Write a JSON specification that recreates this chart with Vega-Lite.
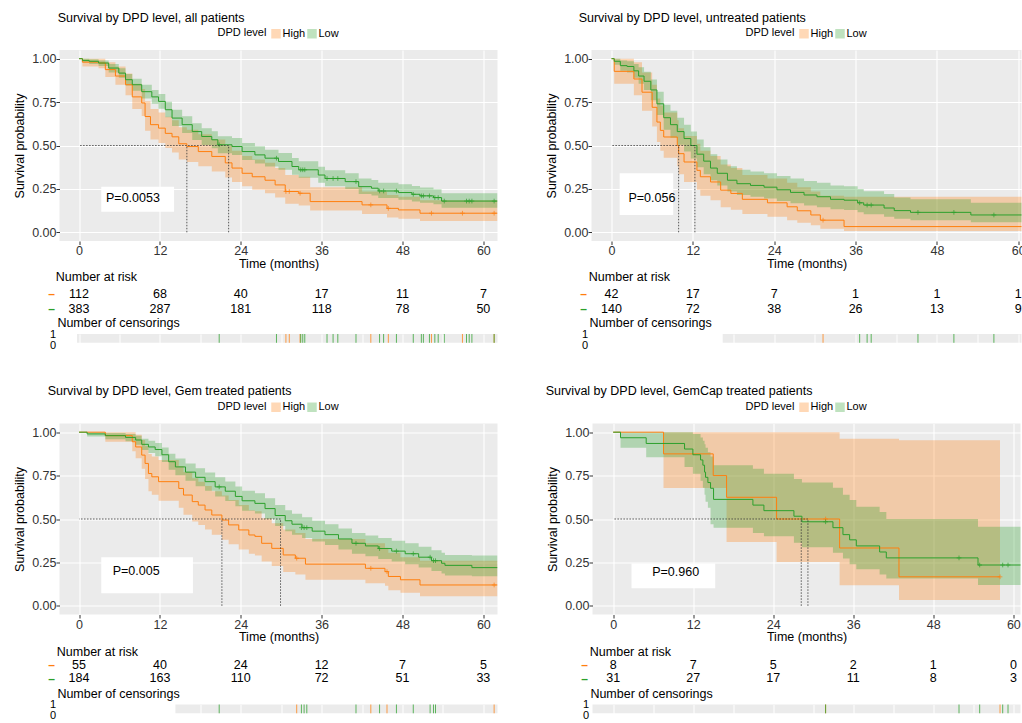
{
"$schema": "https://vega.github.io/schema/vega-lite/v6.json",
"padding": {"left": 13.5, "top": 11, "right": 0, "bottom": 0},
"background": "white",
"config": {
 "font": "Liberation Sans",
 "view": {"stroke": null},
 "axis": {"labelFontSize": 12.5, "labelColor": "#333333", "titleFontSize": 12.5, "titleFontWeight": "normal", "titleColor": "#000000", "tickColor": "#333333", "tickSize": 3.5, "domain": false, "gridColor": "#FFFFFF", "gridWidth": 1.1, "labelPadding": 0, "labelOverlap": false, "labelFlush": false},
 "axisX": {"titlePadding": 0},
 "axisY": {"titlePadding": 5},
 "title": {"fontSize": 12.5, "fontWeight": "normal", "anchor": "start", "color": "#000000", "offset": 4},
 "legend": {"orient": "top", "direction": "horizontal", "titleOrient": "left", "titleFontSize": 11, "titleFontWeight": "normal", "labelFontSize": 11, "symbolType": "square", "symbolSize": 90, "symbolStrokeWidth": 0, "columnPadding": 1, "labelOffset": 1, "titlePadding": 4, "offset": 11, "layout": {"top": {"anchor": "middle", "bounds": "flush"}}},
 "text": {"font": "Liberation Sans"}
},
"datasets": {
 "km": [
  {"p":1,"g":"High","t":0,"s":1,"lo":1,"hi":1},{"p":1,"g":"High","t":0.5,"s":0.98,"lo":0.955,"hi":1},{"p":1,"g":"High","t":2.9,"s":0.975,"lo":0.945,"hi":1},{"p":1,"g":"High","t":3.9,"s":0.937,"lo":0.895,"hi":0.98},{"p":1,"g":"High","t":5.4,"s":0.9,"lo":0.85,"hi":0.955},{"p":1,"g":"High","t":6.9,"s":0.85,"lo":0.79,"hi":0.915},{"p":1,"g":"High","t":7.9,"s":0.78,"lo":0.71,"hi":0.855},{"p":1,"g":"High","t":9.3,"s":0.745,"lo":0.67,"hi":0.825},{"p":1,"g":"High","t":9.8,"s":0.667,"lo":0.585,"hi":0.755},{"p":1,"g":"High","t":10.6,"s":0.62,"lo":0.535,"hi":0.71},{"p":1,"g":"High","t":11.8,"s":0.6,"lo":0.515,"hi":0.69},{"p":1,"g":"High","t":12.8,"s":0.57,"lo":0.485,"hi":0.665},{"p":1,"g":"High","t":13.8,"s":0.55,"lo":0.46,"hi":0.645},{"p":1,"g":"High","t":14.8,"s":0.51,"lo":0.42,"hi":0.605},{"p":1,"g":"High","t":16,"s":0.494,"lo":0.405,"hi":0.59},{"p":1,"g":"High","t":17.7,"s":0.465,"lo":0.38,"hi":0.565},{"p":1,"g":"High","t":19.7,"s":0.437,"lo":0.35,"hi":0.535},{"p":1,"g":"High","t":21.7,"s":0.4,"lo":0.315,"hi":0.5},{"p":1,"g":"High","t":22.7,"s":0.37,"lo":0.29,"hi":0.47},{"p":1,"g":"High","t":24.2,"s":0.34,"lo":0.265,"hi":0.44},{"p":1,"g":"High","t":25.7,"s":0.32,"lo":0.245,"hi":0.42},{"p":1,"g":"High","t":27.6,"s":0.3,"lo":0.225,"hi":0.4},{"p":1,"g":"High","t":29.1,"s":0.273,"lo":0.2,"hi":0.37},{"p":1,"g":"High","t":30.6,"s":0.235,"lo":0.165,"hi":0.33},{"p":1,"g":"High","t":32.6,"s":0.225,"lo":0.155,"hi":0.32},{"p":1,"g":"High","t":34.3,"s":0.177,"lo":0.125,"hi":0.26},{"p":1,"g":"High","t":42,"s":0.158,"lo":0.105,"hi":0.235},{"p":1,"g":"High","t":45.7,"s":0.138,"lo":0.085,"hi":0.215},{"p":1,"g":"High","t":47.4,"s":0.129,"lo":0.078,"hi":0.205},{"p":1,"g":"High","t":50.6,"s":0.11,"lo":0.065,"hi":0.185},{"p":1,"g":"High","t":62.1,"s":0.11,"lo":0.065,"hi":0.185},
  {"p":1,"g":"Low","t":0,"s":1,"lo":1,"hi":1},{"p":1,"g":"Low","t":0.5,"s":0.99,"lo":0.98,"hi":1},{"p":1,"g":"Low","t":1.5,"s":0.985,"lo":0.97,"hi":0.997},{"p":1,"g":"Low","t":2.9,"s":0.975,"lo":0.958,"hi":0.99},{"p":1,"g":"Low","t":4.4,"s":0.946,"lo":0.92,"hi":0.97},{"p":1,"g":"Low","t":5.9,"s":0.917,"lo":0.89,"hi":0.945},{"p":1,"g":"Low","t":6.9,"s":0.879,"lo":0.846,"hi":0.912},{"p":1,"g":"Low","t":7.9,"s":0.85,"lo":0.815,"hi":0.885},{"p":1,"g":"Low","t":9.3,"s":0.81,"lo":0.77,"hi":0.85},{"p":1,"g":"Low","t":10.8,"s":0.78,"lo":0.74,"hi":0.82},{"p":1,"g":"Low","t":11.8,"s":0.754,"lo":0.712,"hi":0.796},{"p":1,"g":"Low","t":12.8,"s":0.706,"lo":0.662,"hi":0.752},{"p":1,"g":"Low","t":13.8,"s":0.658,"lo":0.612,"hi":0.706},{"p":1,"g":"Low","t":15.3,"s":0.62,"lo":0.572,"hi":0.668},{"p":1,"g":"Low","t":16.8,"s":0.58,"lo":0.532,"hi":0.628},{"p":1,"g":"Low","t":18.2,"s":0.552,"lo":0.503,"hi":0.6},{"p":1,"g":"Low","t":19.7,"s":0.533,"lo":0.484,"hi":0.582},{"p":1,"g":"Low","t":20.6,"s":0.504,"lo":0.455,"hi":0.553},{"p":1,"g":"Low","t":22.7,"s":0.494,"lo":0.445,"hi":0.543},{"p":1,"g":"Low","t":24.2,"s":0.465,"lo":0.416,"hi":0.514},{"p":1,"g":"Low","t":26.1,"s":0.446,"lo":0.397,"hi":0.495},{"p":1,"g":"Low","t":27.6,"s":0.427,"lo":0.379,"hi":0.476},{"p":1,"g":"Low","t":29.6,"s":0.408,"lo":0.36,"hi":0.457},{"p":1,"g":"Low","t":31.6,"s":0.379,"lo":0.332,"hi":0.428},{"p":1,"g":"Low","t":32.6,"s":0.36,"lo":0.314,"hi":0.409},{"p":1,"g":"Low","t":35.5,"s":0.33,"lo":0.285,"hi":0.378},{"p":1,"g":"Low","t":36.5,"s":0.31,"lo":0.266,"hi":0.358},{"p":1,"g":"Low","t":39.5,"s":0.292,"lo":0.249,"hi":0.34},{"p":1,"g":"Low","t":41.5,"s":0.263,"lo":0.221,"hi":0.31},{"p":1,"g":"Low","t":43.4,"s":0.254,"lo":0.212,"hi":0.302},{"p":1,"g":"Low","t":44.4,"s":0.238,"lo":0.197,"hi":0.286},{"p":1,"g":"Low","t":47.4,"s":0.229,"lo":0.188,"hi":0.277},{"p":1,"g":"Low","t":49.4,"s":0.219,"lo":0.178,"hi":0.267},{"p":1,"g":"Low","t":50.6,"s":0.21,"lo":0.17,"hi":0.258},{"p":1,"g":"Low","t":52.6,"s":0.2,"lo":0.161,"hi":0.248},{"p":1,"g":"Low","t":53.8,"s":0.18,"lo":0.142,"hi":0.225},{"p":1,"g":"Low","t":62.1,"s":0.18,"lo":0.142,"hi":0.225},
  {"p":2,"g":"High","t":0,"s":1,"lo":1,"hi":1},{"p":2,"g":"High","t":0.4,"s":0.927,"lo":0.855,"hi":1},{"p":2,"g":"High","t":3.3,"s":0.883,"lo":0.79,"hi":0.98},{"p":2,"g":"High","t":4.5,"s":0.807,"lo":0.7,"hi":0.92},{"p":2,"g":"High","t":6,"s":0.72,"lo":0.61,"hi":0.85},{"p":2,"g":"High","t":6.7,"s":0.635,"lo":0.52,"hi":0.77},{"p":2,"g":"High","t":7.2,"s":0.587,"lo":0.47,"hi":0.73},{"p":2,"g":"High","t":7.7,"s":0.549,"lo":0.43,"hi":0.69},{"p":2,"g":"High","t":9.7,"s":0.5,"lo":0.38,"hi":0.645},{"p":2,"g":"High","t":9.9,"s":0.453,"lo":0.335,"hi":0.6},{"p":2,"g":"High","t":10.7,"s":0.405,"lo":0.29,"hi":0.555},{"p":2,"g":"High","t":12.6,"s":0.357,"lo":0.245,"hi":0.51},{"p":2,"g":"High","t":13.1,"s":0.32,"lo":0.21,"hi":0.47},{"p":2,"g":"High","t":14.6,"s":0.29,"lo":0.185,"hi":0.44},{"p":2,"g":"High","t":16.1,"s":0.243,"lo":0.145,"hi":0.39},{"p":2,"g":"High","t":17.6,"s":0.224,"lo":0.13,"hi":0.37},{"p":2,"g":"High","t":19.3,"s":0.19,"lo":0.105,"hi":0.33},{"p":2,"g":"High","t":23,"s":0.17,"lo":0.09,"hi":0.31},{"p":2,"g":"High","t":25.9,"s":0.147,"lo":0.07,"hi":0.285},{"p":2,"g":"High","t":27.4,"s":0.124,"lo":0.055,"hi":0.26},{"p":2,"g":"High","t":29.4,"s":0.1,"lo":0.04,"hi":0.235},{"p":2,"g":"High","t":30.8,"s":0.07,"lo":0.02,"hi":0.21},{"p":2,"g":"High","t":34.3,"s":0.033,"lo":0.008,"hi":0.205},{"p":2,"g":"High","t":62,"s":0.033,"lo":0.008,"hi":0.205},
  {"p":2,"g":"Low","t":0,"s":1,"lo":1,"hi":1},{"p":2,"g":"Low","t":0.4,"s":0.985,"lo":0.965,"hi":1},{"p":2,"g":"Low","t":1.3,"s":0.96,"lo":0.93,"hi":0.99},{"p":2,"g":"Low","t":2.3,"s":0.955,"lo":0.92,"hi":0.985},{"p":2,"g":"Low","t":3.3,"s":0.93,"lo":0.89,"hi":0.97},{"p":2,"g":"Low","t":4,"s":0.9,"lo":0.855,"hi":0.95},{"p":2,"g":"Low","t":4.8,"s":0.87,"lo":0.82,"hi":0.925},{"p":2,"g":"Low","t":5.8,"s":0.82,"lo":0.76,"hi":0.88},{"p":2,"g":"Low","t":6.7,"s":0.74,"lo":0.675,"hi":0.81},{"p":2,"g":"Low","t":7.7,"s":0.66,"lo":0.59,"hi":0.735},{"p":2,"g":"Low","t":8.7,"s":0.62,"lo":0.545,"hi":0.7},{"p":2,"g":"Low","t":9.7,"s":0.58,"lo":0.505,"hi":0.66},{"p":2,"g":"Low","t":10.7,"s":0.54,"lo":0.465,"hi":0.62},{"p":2,"g":"Low","t":11.7,"s":0.5,"lo":0.425,"hi":0.58},{"p":2,"g":"Low","t":12.6,"s":0.45,"lo":0.375,"hi":0.535},{"p":2,"g":"Low","t":13.6,"s":0.41,"lo":0.335,"hi":0.49},{"p":2,"g":"Low","t":14.6,"s":0.37,"lo":0.3,"hi":0.45},{"p":2,"g":"Low","t":15.6,"s":0.34,"lo":0.27,"hi":0.42},{"p":2,"g":"Low","t":17.1,"s":0.3,"lo":0.235,"hi":0.38},{"p":2,"g":"Low","t":18.5,"s":0.28,"lo":0.215,"hi":0.36},{"p":2,"g":"Low","t":20.5,"s":0.27,"lo":0.205,"hi":0.35},{"p":2,"g":"Low","t":22.5,"s":0.26,"lo":0.195,"hi":0.34},{"p":2,"g":"Low","t":24.4,"s":0.245,"lo":0.18,"hi":0.325},{"p":2,"g":"Low","t":26.4,"s":0.23,"lo":0.168,"hi":0.31},{"p":2,"g":"Low","t":28.4,"s":0.215,"lo":0.155,"hi":0.295},{"p":2,"g":"Low","t":30.3,"s":0.205,"lo":0.145,"hi":0.285},{"p":2,"g":"Low","t":32.3,"s":0.19,"lo":0.133,"hi":0.27},{"p":2,"g":"Low","t":34.3,"s":0.185,"lo":0.128,"hi":0.265},{"p":2,"g":"Low","t":36.3,"s":0.17,"lo":0.115,"hi":0.25},{"p":2,"g":"Low","t":37.2,"s":0.157,"lo":0.104,"hi":0.237},{"p":2,"g":"Low","t":40.2,"s":0.14,"lo":0.09,"hi":0.22},{"p":2,"g":"Low","t":41.7,"s":0.125,"lo":0.078,"hi":0.2},{"p":2,"g":"Low","t":44.1,"s":0.115,"lo":0.07,"hi":0.19},{"p":2,"g":"Low","t":53,"s":0.1,"lo":0.058,"hi":0.17},{"p":2,"g":"Low","t":62,"s":0.1,"lo":0.058,"hi":0.17},
  {"p":3,"g":"High","t":0,"s":1,"lo":1,"hi":1},{"p":3,"g":"High","t":3.9,"s":0.98,"lo":0.945,"hi":1},{"p":3,"g":"High","t":7.9,"s":0.945,"lo":0.89,"hi":1},{"p":3,"g":"High","t":8.4,"s":0.915,"lo":0.85,"hi":0.985},{"p":3,"g":"High","t":9.3,"s":0.868,"lo":0.79,"hi":0.955},{"p":3,"g":"High","t":9.8,"s":0.82,"lo":0.73,"hi":0.92},{"p":3,"g":"High","t":10.3,"s":0.762,"lo":0.66,"hi":0.875},{"p":3,"g":"High","t":10.8,"s":0.743,"lo":0.64,"hi":0.86},{"p":3,"g":"High","t":11.8,"s":0.715,"lo":0.605,"hi":0.84},{"p":3,"g":"High","t":14.8,"s":0.676,"lo":0.565,"hi":0.805},{"p":3,"g":"High","t":15.5,"s":0.638,"lo":0.525,"hi":0.77},{"p":3,"g":"High","t":16.8,"s":0.6,"lo":0.485,"hi":0.735},{"p":3,"g":"High","t":17.7,"s":0.58,"lo":0.465,"hi":0.715},{"p":3,"g":"High","t":18.7,"s":0.552,"lo":0.44,"hi":0.69},{"p":3,"g":"High","t":19.7,"s":0.523,"lo":0.41,"hi":0.66},{"p":3,"g":"High","t":21.2,"s":0.494,"lo":0.38,"hi":0.635},{"p":3,"g":"High","t":22.2,"s":0.466,"lo":0.355,"hi":0.61},{"p":3,"g":"High","t":23.7,"s":0.437,"lo":0.325,"hi":0.58},{"p":3,"g":"High","t":25.2,"s":0.408,"lo":0.3,"hi":0.55},{"p":3,"g":"High","t":26.1,"s":0.4,"lo":0.29,"hi":0.545},{"p":3,"g":"High","t":27.1,"s":0.36,"lo":0.255,"hi":0.505},{"p":3,"g":"High","t":28.6,"s":0.331,"lo":0.23,"hi":0.475},{"p":3,"g":"High","t":30.3,"s":0.293,"lo":0.195,"hi":0.44},{"p":3,"g":"High","t":32.1,"s":0.274,"lo":0.18,"hi":0.42},{"p":3,"g":"High","t":33.6,"s":0.24,"lo":0.15,"hi":0.385},{"p":3,"g":"High","t":42.5,"s":0.216,"lo":0.13,"hi":0.36},{"p":3,"g":"High","t":45.4,"s":0.197,"lo":0.115,"hi":0.335},{"p":3,"g":"High","t":45.9,"s":0.169,"lo":0.09,"hi":0.305},{"p":3,"g":"High","t":47.7,"s":0.15,"lo":0.075,"hi":0.28},{"p":3,"g":"High","t":50.6,"s":0.12,"lo":0.055,"hi":0.26},{"p":3,"g":"High","t":62.1,"s":0.12,"lo":0.055,"hi":0.26},
  {"p":3,"g":"Low","t":0,"s":1,"lo":1,"hi":1},{"p":3,"g":"Low","t":1.2,"s":0.99,"lo":0.975,"hi":1},{"p":3,"g":"Low","t":3.9,"s":0.98,"lo":0.96,"hi":0.995},{"p":3,"g":"Low","t":6.9,"s":0.97,"lo":0.948,"hi":0.99},{"p":3,"g":"Low","t":8.4,"s":0.955,"lo":0.928,"hi":0.98},{"p":3,"g":"Low","t":9.3,"s":0.93,"lo":0.898,"hi":0.962},{"p":3,"g":"Low","t":10.3,"s":0.915,"lo":0.88,"hi":0.95},{"p":3,"g":"Low","t":11.3,"s":0.9,"lo":0.862,"hi":0.938},{"p":3,"g":"Low","t":12.3,"s":0.87,"lo":0.828,"hi":0.912},{"p":3,"g":"Low","t":13.3,"s":0.83,"lo":0.784,"hi":0.876},{"p":3,"g":"Low","t":14.3,"s":0.8,"lo":0.752,"hi":0.848},{"p":3,"g":"Low","t":15.8,"s":0.77,"lo":0.72,"hi":0.82},{"p":3,"g":"Low","t":17.3,"s":0.74,"lo":0.688,"hi":0.792},{"p":3,"g":"Low","t":18.7,"s":0.715,"lo":0.662,"hi":0.768},{"p":3,"g":"Low","t":20.2,"s":0.685,"lo":0.63,"hi":0.74},{"p":3,"g":"Low","t":21.7,"s":0.66,"lo":0.604,"hi":0.716},{"p":3,"g":"Low","t":23.2,"s":0.63,"lo":0.573,"hi":0.687},{"p":3,"g":"Low","t":24.2,"s":0.605,"lo":0.547,"hi":0.663},{"p":3,"g":"Low","t":26.1,"s":0.59,"lo":0.532,"hi":0.648},{"p":3,"g":"Low","t":27.6,"s":0.56,"lo":0.5,"hi":0.62},{"p":3,"g":"Low","t":29.1,"s":0.52,"lo":0.46,"hi":0.58},{"p":3,"g":"Low","t":30.6,"s":0.49,"lo":0.43,"hi":0.55},{"p":3,"g":"Low","t":31.6,"s":0.47,"lo":0.41,"hi":0.53},{"p":3,"g":"Low","t":33.1,"s":0.45,"lo":0.39,"hi":0.51},{"p":3,"g":"Low","t":34.6,"s":0.43,"lo":0.37,"hi":0.49},{"p":3,"g":"Low","t":36.5,"s":0.41,"lo":0.35,"hi":0.47},{"p":3,"g":"Low","t":38.5,"s":0.385,"lo":0.325,"hi":0.445},{"p":3,"g":"Low","t":40.5,"s":0.36,"lo":0.3,"hi":0.42},{"p":3,"g":"Low","t":42.5,"s":0.345,"lo":0.285,"hi":0.405},{"p":3,"g":"Low","t":44.4,"s":0.33,"lo":0.27,"hi":0.39},{"p":3,"g":"Low","t":46.4,"s":0.315,"lo":0.255,"hi":0.375},{"p":3,"g":"Low","t":48.4,"s":0.3,"lo":0.24,"hi":0.36},{"p":3,"g":"Low","t":50.4,"s":0.28,"lo":0.22,"hi":0.34},{"p":3,"g":"Low","t":52.3,"s":0.26,"lo":0.2,"hi":0.32},{"p":3,"g":"Low","t":53.8,"s":0.245,"lo":0.186,"hi":0.305},{"p":3,"g":"Low","t":54.3,"s":0.233,"lo":0.175,"hi":0.293},{"p":3,"g":"Low","t":58.3,"s":0.22,"lo":0.17,"hi":0.29},{"p":3,"g":"Low","t":62.1,"s":0.22,"lo":0.17,"hi":0.29},
  {"p":4,"g":"High","t":0,"s":1,"lo":1,"hi":1},{"p":4,"g":"High","t":7.55,"s":0.875,"lo":0.679,"hi":1},{"p":4,"g":"High","t":15,"s":0.75,"lo":0.679,"hi":1},{"p":4,"g":"High","t":17,"s":0.625,"lo":0.367,"hi":1},{"p":4,"g":"High","t":24.5,"s":0.5,"lo":0.252,"hi":1},{"p":4,"g":"High","t":33.95,"s":0.333,"lo":0.119,"hi":0.962},{"p":4,"g":"High","t":42.85,"s":0.167,"lo":0.033,"hi":0.954},{"p":4,"g":"High","t":58,"s":0.167,"lo":0.033,"hi":0.954},
  {"p":4,"g":"Low","t":0,"s":1,"lo":1,"hi":1},{"p":4,"g":"Low","t":1.1,"s":0.968,"lo":0.91,"hi":1},{"p":4,"g":"Low","t":4.95,"s":0.935,"lo":0.855,"hi":1},{"p":4,"g":"Low","t":10.7,"s":0.903,"lo":0.8,"hi":1},{"p":4,"g":"Low","t":11.95,"s":0.87,"lo":0.76,"hi":0.99},{"p":4,"g":"Low","t":13.1,"s":0.84,"lo":0.72,"hi":0.97},{"p":4,"g":"Low","t":13.45,"s":0.81,"lo":0.68,"hi":0.95},{"p":4,"g":"Low","t":13.7,"s":0.77,"lo":0.64,"hi":0.93},{"p":4,"g":"Low","t":13.85,"s":0.74,"lo":0.6,"hi":0.91},{"p":4,"g":"Low","t":14.2,"s":0.71,"lo":0.565,"hi":0.885},{"p":4,"g":"Low","t":14.6,"s":0.677,"lo":0.47,"hi":0.86},{"p":4,"g":"Low","t":15.05,"s":0.613,"lo":0.45,"hi":0.81},{"p":4,"g":"Low","t":20.95,"s":0.58,"lo":0.42,"hi":0.79},{"p":4,"g":"Low","t":22.6,"s":0.548,"lo":0.4,"hi":0.76},{"p":4,"g":"Low","t":27.1,"s":0.516,"lo":0.363,"hi":0.73},{"p":4,"g":"Low","t":28.3,"s":0.484,"lo":0.338,"hi":0.71},{"p":4,"g":"Low","t":32.95,"s":0.45,"lo":0.306,"hi":0.68},{"p":4,"g":"Low","t":34.45,"s":0.41,"lo":0.273,"hi":0.64},{"p":4,"g":"Low","t":35.45,"s":0.38,"lo":0.239,"hi":0.61},{"p":4,"g":"Low","t":36.45,"s":0.345,"lo":0.21,"hi":0.57},{"p":4,"g":"Low","t":39.95,"s":0.31,"lo":0.18,"hi":0.54},{"p":4,"g":"Low","t":40.95,"s":0.276,"lo":0.157,"hi":0.5},{"p":4,"g":"Low","t":54.7,"s":0.235,"lo":0.12,"hi":0.455},{"p":4,"g":"Low","t":62,"s":0.235,"lo":0.12,"hi":0.455}
 ],
 "cens": [
  {"p":1,"g":"High","t":30.7,"s":0.235},{"p":1,"g":"High","t":31.2,"s":0.235},{"p":1,"g":"High","t":32.8,"s":0.225},{"p":1,"g":"High","t":43.3,"s":0.158},{"p":1,"g":"High","t":45.9,"s":0.138},{"p":1,"g":"High","t":52.3,"s":0.11},{"p":1,"g":"High","t":56.9,"s":0.11},{"p":1,"g":"High","t":61.6,"s":0.11},
  {"p":1,"g":"Low","t":20.8,"s":0.504},{"p":1,"g":"Low","t":29.3,"s":0.427},{"p":1,"g":"Low","t":32.9,"s":0.36},{"p":1,"g":"Low","t":33.2,"s":0.36},{"p":1,"g":"Low","t":33.5,"s":0.36},{"p":1,"g":"Low","t":36.8,"s":0.31},{"p":1,"g":"Low","t":37.7,"s":0.31},{"p":1,"g":"Low","t":38.4,"s":0.31},{"p":1,"g":"Low","t":41.1,"s":0.292},{"p":1,"g":"Low","t":44.6,"s":0.238},{"p":1,"g":"Low","t":45.2,"s":0.238},{"p":1,"g":"Low","t":47.1,"s":0.238},{"p":1,"g":"Low","t":49.6,"s":0.219},{"p":1,"g":"Low","t":50.8,"s":0.21},{"p":1,"g":"Low","t":51.1,"s":0.21},{"p":1,"g":"Low","t":52.0,"s":0.21},{"p":1,"g":"Low","t":52.8,"s":0.2},{"p":1,"g":"Low","t":53.3,"s":0.2},{"p":1,"g":"Low","t":54.2,"s":0.18},{"p":1,"g":"Low","t":57.5,"s":0.18},{"p":1,"g":"Low","t":57.9,"s":0.18},{"p":1,"g":"Low","t":58.3,"s":0.18},{"p":1,"g":"Low","t":61.6,"s":0.18},
  {"p":2,"g":"High","t":31.2,"s":0.07},
  {"p":2,"g":"Low","t":36.6,"s":0.17},{"p":2,"g":"Low","t":37.7,"s":0.157},{"p":2,"g":"Low","t":38.3,"s":0.157},{"p":2,"g":"Low","t":45.2,"s":0.115},{"p":2,"g":"Low","t":50.5,"s":0.115},{"p":2,"g":"Low","t":56.4,"s":0.1},
  {"p":3,"g":"High","t":32.3,"s":0.274},{"p":3,"g":"High","t":43.3,"s":0.216},{"p":3,"g":"High","t":45.7,"s":0.197},{"p":3,"g":"High","t":61.6,"s":0.12},
  {"p":3,"g":"Low","t":20.8,"s":0.685},{"p":3,"g":"Low","t":33.0,"s":0.45},{"p":3,"g":"Low","t":33.4,"s":0.45},{"p":3,"g":"Low","t":33.8,"s":0.45},{"p":3,"g":"Low","t":41.1,"s":0.36},{"p":3,"g":"Low","t":44.6,"s":0.33},{"p":3,"g":"Low","t":47.1,"s":0.315},{"p":3,"g":"Low","t":49.6,"s":0.3},{"p":3,"g":"Low","t":52.1,"s":0.28},{"p":3,"g":"Low","t":52.6,"s":0.26},{"p":3,"g":"Low","t":52.9,"s":0.26},
  {"p":4,"g":"High","t":31.85,"s":0.5},{"p":4,"g":"High","t":58,"s":0.167},
  {"p":4,"g":"Low","t":31.85,"s":0.484},{"p":4,"g":"Low","t":51.85,"s":0.276},{"p":4,"g":"Low","t":54.95,"s":0.235},{"p":4,"g":"Low","t":58.4,"s":0.235},{"p":4,"g":"Low","t":59.2,"s":0.235}
 ],
 "risk": [
  {"p":1,"g":"High","t":0,"n":112},{"p":1,"g":"High","t":12,"n":68},{"p":1,"g":"High","t":24,"n":40},{"p":1,"g":"High","t":36,"n":17},{"p":1,"g":"High","t":48,"n":11},{"p":1,"g":"High","t":60,"n":7},
  {"p":1,"g":"Low","t":0,"n":383},{"p":1,"g":"Low","t":12,"n":287},{"p":1,"g":"Low","t":24,"n":181},{"p":1,"g":"Low","t":36,"n":118},{"p":1,"g":"Low","t":48,"n":78},{"p":1,"g":"Low","t":60,"n":50},
  {"p":2,"g":"High","t":0,"n":42},{"p":2,"g":"High","t":12,"n":17},{"p":2,"g":"High","t":24,"n":7},{"p":2,"g":"High","t":36,"n":1},{"p":2,"g":"High","t":48,"n":1},{"p":2,"g":"High","t":60,"n":1},
  {"p":2,"g":"Low","t":0,"n":140},{"p":2,"g":"Low","t":12,"n":72},{"p":2,"g":"Low","t":24,"n":38},{"p":2,"g":"Low","t":36,"n":26},{"p":2,"g":"Low","t":48,"n":13},{"p":2,"g":"Low","t":60,"n":9},
  {"p":3,"g":"High","t":0,"n":55},{"p":3,"g":"High","t":12,"n":40},{"p":3,"g":"High","t":24,"n":24},{"p":3,"g":"High","t":36,"n":12},{"p":3,"g":"High","t":48,"n":7},{"p":3,"g":"High","t":60,"n":5},
  {"p":3,"g":"Low","t":0,"n":184},{"p":3,"g":"Low","t":12,"n":163},{"p":3,"g":"Low","t":24,"n":110},{"p":3,"g":"Low","t":36,"n":72},{"p":3,"g":"Low","t":48,"n":51},{"p":3,"g":"Low","t":60,"n":33},
  {"p":4,"g":"High","t":0,"n":8},{"p":4,"g":"High","t":12,"n":7},{"p":4,"g":"High","t":24,"n":5},{"p":4,"g":"High","t":36,"n":2},{"p":4,"g":"High","t":48,"n":1},{"p":4,"g":"High","t":60,"n":0},
  {"p":4,"g":"Low","t":0,"n":31},{"p":4,"g":"Low","t":12,"n":27},{"p":4,"g":"Low","t":24,"n":17},{"p":4,"g":"Low","t":36,"n":11},{"p":4,"g":"Low","t":48,"n":8},{"p":4,"g":"Low","t":60,"n":3}
 ],
 "med": [
  {"p":1,"g":"High","t":16.0},{"p":1,"g":"Low","t":22.2},
  {"p":2,"g":"High","t":9.9},{"p":2,"g":"Low","t":12.3},
  {"p":3,"g":"High","t":21.2},{"p":3,"g":"Low","t":29.9},
  {"p":4,"g":"High","t":29.2},{"p":4,"g":"Low","t":28.2}
 ]
},
"spacing": 34.5,
"resolve": {"scale": {"fill": "independent", "stroke": "independent"}, "legend": {"fill": "independent", "stroke": "independent"}},
"vconcat": [
 {"hconcat": [
  {"title": {"text": "Survival by DPD level, all patients", "frame": "bounds", "anchor": "start", "dx": 44},
   "resolve": {"scale": {"fill": "independent", "stroke": "independent"}, "legend": {"fill": "independent", "stroke": "independent"}},
   "vconcat": [
   {"width": 438, "height": 191, "view": {"fill": "#EBEBEB"},
    "resolve": {"axis": {"x": "independent", "y": "independent"}},
    "layer": [
     {"data": {"name": "km"}, "transform": [{"filter": "datum.p == 1"}],
      "mark": {"type": "area", "interpolate": "step-after", "opacity": 0.3, "clip": true},
      "encoding": {"x": {"field": "t", "type": "quantitative", "scale": {"domain": [-2.9, 62.1], "nice": false, "zero": false}, "axis": {"values": [0,12,24,36,48,60], "title": "Time (months)"}},
       "y": {"field": "lo", "type": "quantitative", "scale": {"domain": [-0.05, 1.05], "nice": false, "zero": false}, "axis": {"values": [0,0.25,0.5,0.75,1], "format": ".2f", "title": "Survival probability"}},
       "y2": {"field": "hi"},
       "fill": {"field": "g", "type": "nominal", "scale": {"domain": ["High","Low"], "range": ["#FF7F0E","#2CA02C"]}, "legend": {"title": "DPD level"}}}},
     {"data": {"name": "km"}, "transform": [{"filter": "datum.p == 1"}],
      "mark": {"type": "line", "interpolate": "step-after", "strokeWidth": 1, "clip": true},
      "encoding": {"x": {"field": "t", "type": "quantitative", "axis": {"orient": "top", "values": [6,18,30,42,54], "labels": false, "ticks": false, "title": null, "gridWidth": 0.5}},
       "y": {"field": "s", "type": "quantitative", "axis": {"orient": "right", "values": [0.125,0.375,0.625,0.875], "labels": false, "ticks": false, "title": null, "gridWidth": 0.5}},
       "stroke": {"field": "g", "type": "nominal", "scale": {"domain": ["High","Low"], "range": ["#FF7F0E","#2CA02C"]}, "legend": null}}},
     {"data": {"name": "cens"}, "transform": [{"filter": "datum.p == 1"}],
      "mark": {"type": "point", "shape": "M-1,0H1M0,-1V1", "size": 22, "strokeWidth": 1, "filled": false, "clip": true},
      "encoding": {"x": {"field": "t", "type": "quantitative", "axis": null}, "y": {"field": "s", "type": "quantitative", "axis": null}, "stroke": {"field": "g", "type": "nominal", "legend": null}}},
     {"data": {"name": "med"}, "transform": [{"filter": "datum.p == 1"}],
      "mark": {"type": "rule", "strokeDash": [1.5, 1.5], "strokeWidth": 0.8, "color": "#333333"},
      "encoding": {"x": {"field": "t", "type": "quantitative", "axis": null}, "y": {"datum": 0, "axis": null}, "y2": {"datum": 0.5}}},
     {"data": {"name": "med"}, "transform": [{"filter": "datum.p == 1"}, {"joinaggregate": [{"op": "max", "field": "t", "as": "mt"}]}, {"filter": "datum.t == datum.mt"}],
      "mark": {"type": "rule", "strokeDash": [1.5, 1.5], "strokeWidth": 0.8, "color": "#333333"},
      "encoding": {"x": {"field": "t", "type": "quantitative", "axis": null}, "x2": {"datum": 0}, "y": {"datum": 0.5, "axis": null}}},
     {"data": {"values": [{"label": "P=0.0053"}]},
      "mark": {"type": "rect", "fill": "#FFFFFF"},
      "encoding": {"x": {"datum": 3.3, "axis": null}, "x2": {"datum": 14.1}, "y": {"datum": 0.263, "axis": null}, "y2": {"datum": 0.119}}},
     {"data": {"values": [{"label": "P=0.0053"}]},
      "mark": {"type": "text", "fontSize": 12.5, "align": "left", "color": "#000000"},
      "encoding": {"x": {"datum": 4.0, "axis": null}, "y": {"datum": 0.196, "axis": null}, "text": {"field": "label", "type": "nominal"}}}
    ]},
   {"title": {"text": "Number at risk", "frame": "bounds", "offset": 3, "dx": 8},
    "width": 438, "height": 30,
    "data": {"name": "risk"}, "transform": [{"filter": "datum.p == 1"}],
    "mark": {"type": "text", "fontSize": 12.5, "color": "#000000"},
    "encoding": {"x": {"field": "t", "type": "quantitative", "scale": {"domain": [-2.9, 62.1], "nice": false, "zero": false}, "axis": null},
     "y": {"field": "g", "type": "nominal", "scale": {"domain": ["High","Low"]}, "axis": {"title": null, "ticks": false, "grid": false, "labelExpr": "'–'", "labelFontWeight": "bold", "labelFontSize": 12, "labelPadding": 5, "labelColor": {"condition": {"test": "datum.value == 'High'", "value": "#FF7F0E"}, "value": "#2CA02C"}}},
     "text": {"field": "n", "type": "quantitative"}}},
   {"title": {"text": "Number of censorings", "frame": "bounds", "offset": -1, "dx": 8},
    "width": 438, "height": 11,
    "layer": [
     {"data": {"values": [{}]}, "mark": {"type": "rect", "color": "#EBEBEB"},
      "encoding": {"x": {"datum": -0.3, "type": "quantitative", "scale": {"domain": [-2.9, 62.1], "nice": false, "zero": false}, "axis": {"values": [0,6,12,18,24,30,36,42,48,54,60], "labels": false, "ticks": false, "title": null, "grid": true, "gridWidth": 1, "zindex": 1}}, "x2": {"datum": 62.1},
       "y": {"datum": 0.2, "type": "quantitative", "scale": {"domain": [0, 1], "nice": false}, "axis": {"values": [0, 1], "title": null, "ticks": false, "grid": false, "labelPadding": 4, "labelFontSize": 11, "labelColor": "#000000"}}, "y2": {"datum": 1}}},
     {"data": {"name": "cens"}, "transform": [{"filter": "datum.p == 1"}],
      "mark": {"type": "rule", "strokeWidth": 1, "opacity": 0.75},
      "encoding": {"x": {"field": "t", "type": "quantitative"}, "y": {"datum": 0.2, "type": "quantitative"}, "y2": {"datum": 1}, "stroke": {"field": "g", "type": "nominal", "scale": {"domain": ["High","Low"], "range": ["#FF7F0E","#2CA02C"]}, "legend": null}}}
    ]}
  ], "spacing": 0},
  {"title": {"text": "Survival by DPD level, untreated patients", "frame": "bounds", "anchor": "start", "dx": 33},
   "resolve": {"scale": {"fill": "independent", "stroke": "independent"}, "legend": {"fill": "independent", "stroke": "independent"}},
   "vconcat": [
   {"width": 430, "height": 191, "view": {"fill": "#EBEBEB"},
    "resolve": {"axis": {"x": "independent", "y": "independent"}},
    "layer": [
     {"data": {"name": "km"}, "transform": [{"filter": "datum.p == 2"}],
      "mark": {"type": "area", "interpolate": "step-after", "opacity": 0.3, "clip": true},
      "encoding": {"x": {"field": "t", "type": "quantitative", "scale": {"domain": [-2.95, 60.47], "nice": false, "zero": false}, "axis": {"values": [0,12,24,36,48,60], "title": "Time (months)"}},
       "y": {"field": "lo", "type": "quantitative", "scale": {"domain": [-0.05, 1.05], "nice": false, "zero": false}, "axis": {"values": [0,0.25,0.5,0.75,1], "format": ".2f", "title": "Survival probability"}},
       "y2": {"field": "hi"},
       "fill": {"field": "g", "type": "nominal", "scale": {"domain": ["High","Low"], "range": ["#FF7F0E","#2CA02C"]}, "legend": {"title": "DPD level"}}}},
     {"data": {"name": "km"}, "transform": [{"filter": "datum.p == 2"}],
      "mark": {"type": "line", "interpolate": "step-after", "strokeWidth": 1, "clip": true},
      "encoding": {"x": {"field": "t", "type": "quantitative", "axis": {"orient": "top", "values": [6,18,30,42,54], "labels": false, "ticks": false, "title": null, "gridWidth": 0.5}},
       "y": {"field": "s", "type": "quantitative", "axis": {"orient": "right", "values": [0.125,0.375,0.625,0.875], "labels": false, "ticks": false, "title": null, "gridWidth": 0.5}},
       "stroke": {"field": "g", "type": "nominal", "scale": {"domain": ["High","Low"], "range": ["#FF7F0E","#2CA02C"]}, "legend": null}}},
     {"data": {"name": "cens"}, "transform": [{"filter": "datum.p == 2"}],
      "mark": {"type": "point", "shape": "M-1,0H1M0,-1V1", "size": 22, "strokeWidth": 1, "filled": false, "clip": true},
      "encoding": {"x": {"field": "t", "type": "quantitative", "axis": null}, "y": {"field": "s", "type": "quantitative", "axis": null}, "stroke": {"field": "g", "type": "nominal", "legend": null}}},
     {"data": {"name": "med"}, "transform": [{"filter": "datum.p == 2"}],
      "mark": {"type": "rule", "strokeDash": [1.5, 1.5], "strokeWidth": 0.8, "color": "#333333"},
      "encoding": {"x": {"field": "t", "type": "quantitative", "axis": null}, "y": {"datum": 0, "axis": null}, "y2": {"datum": 0.5}}},
     {"data": {"name": "med"}, "transform": [{"filter": "datum.p == 2"}, {"joinaggregate": [{"op": "max", "field": "t", "as": "mt"}]}, {"filter": "datum.t == datum.mt"}],
      "mark": {"type": "rule", "strokeDash": [1.5, 1.5], "strokeWidth": 0.8, "color": "#333333"},
      "encoding": {"x": {"field": "t", "type": "quantitative", "axis": null}, "x2": {"datum": 0}, "y": {"datum": 0.5, "axis": null}}},
     {"data": {"values": [{"label": "P=0.056"}]},
      "mark": {"type": "rect", "fill": "#FFFFFF"},
      "encoding": {"x": {"datum": 1.2, "axis": null}, "x2": {"datum": 9.1}, "y": {"datum": 0.34, "axis": null}, "y2": {"datum": 0.1}}},
     {"data": {"values": [{"label": "P=0.056"}]},
      "mark": {"type": "text", "fontSize": 12.5, "align": "left", "color": "#000000"},
      "encoding": {"x": {"datum": 2.5, "axis": null}, "y": {"datum": 0.2, "axis": null}, "text": {"field": "label", "type": "nominal"}}}
    ]},
   {"title": {"text": "Number at risk", "frame": "bounds", "offset": 3, "dx": 9},
    "width": 430, "height": 30,
    "data": {"name": "risk"}, "transform": [{"filter": "datum.p == 2"}],
    "mark": {"type": "text", "fontSize": 12.5, "color": "#000000"},
    "encoding": {"x": {"field": "t", "type": "quantitative", "scale": {"domain": [-2.95, 60.47], "nice": false, "zero": false}, "axis": null},
     "y": {"field": "g", "type": "nominal", "scale": {"domain": ["High","Low"]}, "axis": {"title": null, "ticks": false, "grid": false, "labelExpr": "'–'", "labelFontWeight": "bold", "labelFontSize": 12, "labelPadding": 5, "labelColor": {"condition": {"test": "datum.value == 'High'", "value": "#FF7F0E"}, "value": "#2CA02C"}}},
     "text": {"field": "n", "type": "quantitative"}}},
   {"title": {"text": "Number of censorings", "frame": "bounds", "offset": -1, "dx": 8},
    "width": 430, "height": 11,
    "layer": [
     {"data": {"values": [{}]}, "mark": {"type": "rect", "color": "#EBEBEB"},
      "encoding": {"x": {"datum": 16.4, "type": "quantitative", "scale": {"domain": [-2.95, 60.47], "nice": false, "zero": false}, "axis": {"values": [0,6,12,18,24,30,36,42,48,54,60], "labels": false, "ticks": false, "title": null, "grid": true, "gridWidth": 1, "zindex": 1}}, "x2": {"datum": 60.47},
       "y": {"datum": 0.2, "type": "quantitative", "scale": {"domain": [0, 1], "nice": false}, "axis": {"values": [0, 1], "title": null, "ticks": false, "grid": false, "labelPadding": 4, "labelFontSize": 11, "labelColor": "#000000"}}, "y2": {"datum": 1}}},
     {"data": {"name": "cens"}, "transform": [{"filter": "datum.p == 2"}],
      "mark": {"type": "rule", "strokeWidth": 1, "opacity": 0.75},
      "encoding": {"x": {"field": "t", "type": "quantitative"}, "y": {"datum": 0.2, "type": "quantitative"}, "y2": {"datum": 1}, "stroke": {"field": "g", "type": "nominal", "scale": {"domain": ["High","Low"], "range": ["#FF7F0E","#2CA02C"]}, "legend": null}}}
    ]}
  ], "spacing": 0}
 ], "spacing": 48, "resolve": {"scale": {"fill": "independent", "stroke": "independent"}, "legend": {"fill": "independent", "stroke": "independent"}}},
 {"hconcat": [
  {"title": {"text": "Survival by DPD level, Gem treated patients", "frame": "bounds", "anchor": "start", "dx": 34},
   "resolve": {"scale": {"fill": "independent", "stroke": "independent"}, "legend": {"fill": "independent", "stroke": "independent"}},
   "vconcat": [
   {"width": 438, "height": 191, "view": {"fill": "#EBEBEB"},
    "resolve": {"axis": {"x": "independent", "y": "independent"}},
    "layer": [
     {"data": {"name": "km"}, "transform": [{"filter": "datum.p == 3"}],
      "mark": {"type": "area", "interpolate": "step-after", "opacity": 0.3, "clip": true},
      "encoding": {"x": {"field": "t", "type": "quantitative", "scale": {"domain": [-2.9, 62.1], "nice": false, "zero": false}, "axis": {"values": [0,12,24,36,48,60], "title": "Time (months)"}},
       "y": {"field": "lo", "type": "quantitative", "scale": {"domain": [-0.05, 1.05], "nice": false, "zero": false}, "axis": {"values": [0,0.25,0.5,0.75,1], "format": ".2f", "title": "Survival probability"}},
       "y2": {"field": "hi"},
       "fill": {"field": "g", "type": "nominal", "scale": {"domain": ["High","Low"], "range": ["#FF7F0E","#2CA02C"]}, "legend": {"title": "DPD level"}}}},
     {"data": {"name": "km"}, "transform": [{"filter": "datum.p == 3"}],
      "mark": {"type": "line", "interpolate": "step-after", "strokeWidth": 1, "clip": true},
      "encoding": {"x": {"field": "t", "type": "quantitative", "axis": {"orient": "top", "values": [6,18,30,42,54], "labels": false, "ticks": false, "title": null, "gridWidth": 0.5}},
       "y": {"field": "s", "type": "quantitative", "axis": {"orient": "right", "values": [0.125,0.375,0.625,0.875], "labels": false, "ticks": false, "title": null, "gridWidth": 0.5}},
       "stroke": {"field": "g", "type": "nominal", "scale": {"domain": ["High","Low"], "range": ["#FF7F0E","#2CA02C"]}, "legend": null}}},
     {"data": {"name": "cens"}, "transform": [{"filter": "datum.p == 3"}],
      "mark": {"type": "point", "shape": "M-1,0H1M0,-1V1", "size": 22, "strokeWidth": 1, "filled": false, "clip": true},
      "encoding": {"x": {"field": "t", "type": "quantitative", "axis": null}, "y": {"field": "s", "type": "quantitative", "axis": null}, "stroke": {"field": "g", "type": "nominal", "legend": null}}},
     {"data": {"name": "med"}, "transform": [{"filter": "datum.p == 3"}],
      "mark": {"type": "rule", "strokeDash": [1.5, 1.5], "strokeWidth": 0.8, "color": "#333333"},
      "encoding": {"x": {"field": "t", "type": "quantitative", "axis": null}, "y": {"datum": 0, "axis": null}, "y2": {"datum": 0.5}}},
     {"data": {"name": "med"}, "transform": [{"filter": "datum.p == 3"}, {"joinaggregate": [{"op": "max", "field": "t", "as": "mt"}]}, {"filter": "datum.t == datum.mt"}],
      "mark": {"type": "rule", "strokeDash": [1.5, 1.5], "strokeWidth": 0.8, "color": "#333333"},
      "encoding": {"x": {"field": "t", "type": "quantitative", "axis": null}, "x2": {"datum": 0}, "y": {"datum": 0.5, "axis": null}}},
     {"data": {"values": [{"label": "P=0.005"}]},
      "mark": {"type": "rect", "fill": "#FFFFFF"},
      "encoding": {"x": {"datum": 3.3, "axis": null}, "x2": {"datum": 16.9}, "y": {"datum": 0.28, "axis": null}, "y2": {"datum": 0.073}}},
     {"data": {"values": [{"label": "P=0.005"}]},
      "mark": {"type": "text", "fontSize": 12.5, "align": "left", "color": "#000000"},
      "encoding": {"x": {"datum": 5.0, "axis": null}, "y": {"datum": 0.2, "axis": null}, "text": {"field": "label", "type": "nominal"}}}
    ]},
   {"title": {"text": "Number at risk", "frame": "bounds", "offset": -0.8, "dx": 9},
    "width": 438, "height": 27,
    "data": {"name": "risk"}, "transform": [{"filter": "datum.p == 3"}],
    "mark": {"type": "text", "fontSize": 12.5, "color": "#000000"},
    "encoding": {"x": {"field": "t", "type": "quantitative", "scale": {"domain": [-2.9, 62.1], "nice": false, "zero": false}, "axis": null},
     "y": {"field": "g", "type": "nominal", "scale": {"domain": ["High","Low"]}, "axis": {"title": null, "ticks": false, "grid": false, "labelExpr": "'–'", "labelFontWeight": "bold", "labelFontSize": 12, "labelPadding": 5, "labelColor": {"condition": {"test": "datum.value == 'High'", "value": "#FF7F0E"}, "value": "#2CA02C"}}},
     "text": {"field": "n", "type": "quantitative"}}},
   {"title": {"text": "Number of censorings", "frame": "bounds", "offset": -1.5, "dx": 8},
    "width": 438, "height": 11,
    "layer": [
     {"data": {"values": [{}]}, "mark": {"type": "rect", "color": "#EBEBEB"},
      "encoding": {"x": {"datum": 14.3, "type": "quantitative", "scale": {"domain": [-2.9, 62.1], "nice": false, "zero": false}, "axis": {"values": [0,6,12,18,24,30,36,42,48,54,60], "labels": false, "ticks": false, "title": null, "grid": true, "gridWidth": 1, "zindex": 1}}, "x2": {"datum": 62.1},
       "y": {"datum": 0.2, "type": "quantitative", "scale": {"domain": [0, 1], "nice": false}, "axis": {"values": [0, 1], "title": null, "ticks": false, "grid": false, "labelPadding": 4, "labelFontSize": 11, "labelColor": "#000000"}}, "y2": {"datum": 1}}},
     {"data": {"name": "cens"}, "transform": [{"filter": "datum.p == 3"}],
      "mark": {"type": "rule", "strokeWidth": 1, "opacity": 0.75},
      "encoding": {"x": {"field": "t", "type": "quantitative"}, "y": {"datum": 0.2, "type": "quantitative"}, "y2": {"datum": 1}, "stroke": {"field": "g", "type": "nominal", "scale": {"domain": ["High","Low"], "range": ["#FF7F0E","#2CA02C"]}, "legend": null}}}
    ]}
  ], "spacing": 2.5},
  {"title": {"text": "Survival by DPD level, GemCap treated patients", "frame": "bounds", "anchor": "start", "dx": -1},
   "resolve": {"scale": {"fill": "independent", "stroke": "independent"}, "legend": {"fill": "independent", "stroke": "independent"}},
   "vconcat": [
   {"width": 428, "height": 191, "view": {"fill": "#EBEBEB"},
    "resolve": {"axis": {"x": "independent", "y": "independent"}},
    "layer": [
     {"data": {"name": "km"}, "transform": [{"filter": "datum.p == 4"}],
      "mark": {"type": "area", "interpolate": "step-after", "opacity": 0.3, "clip": true},
      "encoding": {"x": {"field": "t", "type": "quantitative", "scale": {"domain": [-3.1, 61.07], "nice": false, "zero": false}, "axis": {"values": [0,12,24,36,48,60], "title": "Time (months)"}},
       "y": {"field": "lo", "type": "quantitative", "scale": {"domain": [-0.05, 1.05], "nice": false, "zero": false}, "axis": {"values": [0,0.25,0.5,0.75,1], "format": ".2f", "title": "Survival probability"}},
       "y2": {"field": "hi"},
       "fill": {"field": "g", "type": "nominal", "scale": {"domain": ["High","Low"], "range": ["#FF7F0E","#2CA02C"]}, "legend": {"title": "DPD level"}}}},
     {"data": {"name": "km"}, "transform": [{"filter": "datum.p == 4"}],
      "mark": {"type": "line", "interpolate": "step-after", "strokeWidth": 1, "clip": true},
      "encoding": {"x": {"field": "t", "type": "quantitative", "axis": {"orient": "top", "values": [6,18,30,42,54], "labels": false, "ticks": false, "title": null, "gridWidth": 0.5}},
       "y": {"field": "s", "type": "quantitative", "axis": {"orient": "right", "values": [0.125,0.375,0.625,0.875], "labels": false, "ticks": false, "title": null, "gridWidth": 0.5}},
       "stroke": {"field": "g", "type": "nominal", "scale": {"domain": ["High","Low"], "range": ["#FF7F0E","#2CA02C"]}, "legend": null}}},
     {"data": {"name": "cens"}, "transform": [{"filter": "datum.p == 4"}],
      "mark": {"type": "point", "shape": "M-1,0H1M0,-1V1", "size": 22, "strokeWidth": 1, "filled": false, "clip": true},
      "encoding": {"x": {"field": "t", "type": "quantitative", "axis": null}, "y": {"field": "s", "type": "quantitative", "axis": null}, "stroke": {"field": "g", "type": "nominal", "legend": null}}},
     {"data": {"name": "med"}, "transform": [{"filter": "datum.p == 4"}],
      "mark": {"type": "rule", "strokeDash": [1.5, 1.5], "strokeWidth": 0.8, "color": "#333333"},
      "encoding": {"x": {"field": "t", "type": "quantitative", "axis": null}, "y": {"datum": 0, "axis": null}, "y2": {"datum": 0.5}}},
     {"data": {"name": "med"}, "transform": [{"filter": "datum.p == 4"}, {"joinaggregate": [{"op": "max", "field": "t", "as": "mt"}]}, {"filter": "datum.t == datum.mt"}],
      "mark": {"type": "rule", "strokeDash": [1.5, 1.5], "strokeWidth": 0.8, "color": "#333333"},
      "encoding": {"x": {"field": "t", "type": "quantitative", "axis": null}, "x2": {"datum": 0}, "y": {"datum": 0.5, "axis": null}}},
     {"data": {"values": [{"label": "P=0.960"}]},
      "mark": {"type": "rect", "fill": "#FFFFFF"},
      "encoding": {"x": {"datum": 2.75, "axis": null}, "x2": {"datum": 15.3}, "y": {"datum": 0.243, "axis": null}, "y2": {"datum": 0.101}}},
     {"data": {"values": [{"label": "P=0.960"}]},
      "mark": {"type": "text", "fontSize": 12.5, "align": "left", "color": "#000000"},
      "encoding": {"x": {"datum": 5.85, "axis": null}, "y": {"datum": 0.195, "axis": null}, "text": {"field": "label", "type": "nominal"}}}
    ]},
   {"title": {"text": "Number at risk", "frame": "bounds", "offset": -0.8, "dx": 9},
    "width": 428, "height": 27,
    "data": {"name": "risk"}, "transform": [{"filter": "datum.p == 4"}],
    "mark": {"type": "text", "fontSize": 12.5, "color": "#000000"},
    "encoding": {"x": {"field": "t", "type": "quantitative", "scale": {"domain": [-3.1, 61.07], "nice": false, "zero": false}, "axis": null},
     "y": {"field": "g", "type": "nominal", "scale": {"domain": ["High","Low"]}, "axis": {"title": null, "ticks": false, "grid": false, "labelExpr": "'–'", "labelFontWeight": "bold", "labelFontSize": 12, "labelPadding": 5, "labelColor": {"condition": {"test": "datum.value == 'High'", "value": "#FF7F0E"}, "value": "#2CA02C"}}},
     "text": {"field": "n", "type": "quantitative"}}},
   {"title": {"text": "Number of censorings", "frame": "bounds", "offset": -1.5, "dx": 8},
    "width": 428, "height": 11,
    "layer": [
     {"data": {"values": [{}]}, "mark": {"type": "rect", "color": "#EBEBEB"},
      "encoding": {"x": {"datum": -3.1, "type": "quantitative", "scale": {"domain": [-3.1, 61.07], "nice": false, "zero": false}, "axis": {"values": [0,6,12,18,24,30,36,42,48,54,60], "labels": false, "ticks": false, "title": null, "grid": true, "gridWidth": 1, "zindex": 1}}, "x2": {"datum": 61.07},
       "y": {"datum": 0.2, "type": "quantitative", "scale": {"domain": [0, 1], "nice": false}, "axis": {"values": [0, 1], "title": null, "ticks": false, "grid": false, "labelPadding": 4, "labelFontSize": 11, "labelColor": "#000000"}}, "y2": {"datum": 1}}},
     {"data": {"name": "cens"}, "transform": [{"filter": "datum.p == 4"}],
      "mark": {"type": "rule", "strokeWidth": 1, "opacity": 0.75},
      "encoding": {"x": {"field": "t", "type": "quantitative"}, "y": {"datum": 0.2, "type": "quantitative"}, "y2": {"datum": 1}, "stroke": {"field": "g", "type": "nominal", "scale": {"domain": ["High","Low"], "range": ["#FF7F0E","#2CA02C"]}, "legend": null}}}
    ]}
  ], "spacing": 2.5}
 ], "spacing": 48, "resolve": {"scale": {"fill": "independent", "stroke": "independent"}, "legend": {"fill": "independent", "stroke": "independent"}}}
]
}
